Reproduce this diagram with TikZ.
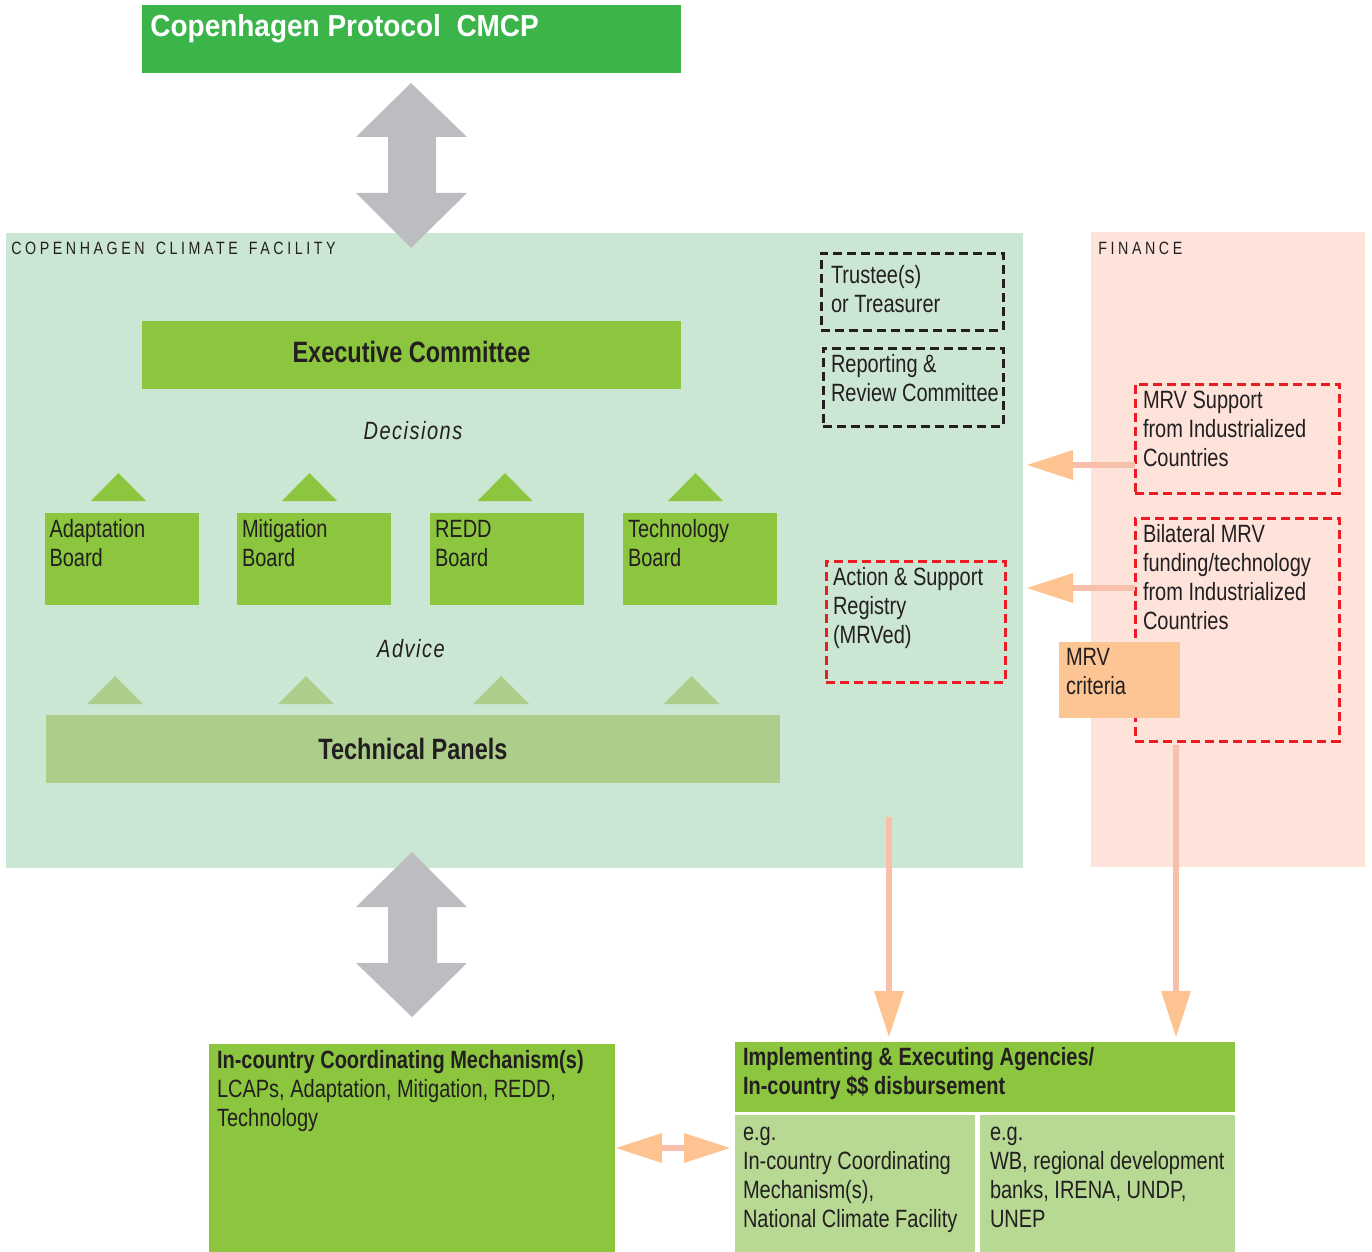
\documentclass[tikz,border=0pt]{standalone}
\usepackage{fontspec}
\setmainfont{Liberation Sans}[FakeStretch=0.8]
\newfontfamily\spacedfont{Liberation Sans}[FakeStretch=0.8,LetterSpace=20]
\newfontfamily\italsp{Liberation Sans}[FakeStretch=0.8,LetterSpace=6]
\newfontfamily\titlefont{Liberation Sans}[FakeStretch=0.92]
\usetikzlibrary{arrows.meta}
\definecolor{ink}{RGB}{35,31,32}
\definecolor{cmcpgreen}{RGB}{59,181,74}
\definecolor{boxgreen}{RGB}{140,198,63}
\definecolor{ccfbg}{RGB}{204,230,212}
\definecolor{panelgreen}{RGB}{173,206,139}
\definecolor{subgreen}{RGB}{184,217,147}
\definecolor{finbg}{RGB}{253,227,218}
\definecolor{arrowgray}{RGB}{188,189,193}
\definecolor{headorange}{RGB}{253,196,146}
\definecolor{shaftpink}{RGB}{248,191,170}
\definecolor{critorange}{RGB}{253,197,148}
\definecolor{mrvred}{RGB}{237,28,36}
\newcommand\fs{\rule{0pt}{10pt}}
\newcommand\wsp{\hspace{1.8pt}}
\tikzset{
  OTip/.tip={Triangle[length=23pt,width=15pt,color=headorange,line width=0pt]},
  box/.style={inner sep=0pt,outer sep=0pt,anchor=north west,draw=none},
  txt/.style={inner sep=0pt,outer sep=0pt,anchor=north west,align=left,text=ink,font=\fontsize{12.5}{14.5}\selectfont},
  dashblack/.style={draw=ink,line width=1.5pt,dash pattern=on 4.5pt off 2.5pt},
  dashred/.style={draw=mrvred,line width=1.5pt,dash pattern=on 4.5pt off 2.5pt},
  shaft/.style={draw=shaftpink,line width=3pt},
  heading/.style={inner sep=0pt,text=ink,font=\fontsize{14.7}{17}\selectfont\bfseries},
  sectlabel/.style={inner sep=0pt,anchor=base west,text=ink,font=\spacedfont\fontsize{8.9}{10}\selectfont},
  flowlabel/.style={inner sep=0pt,anchor=base,text=ink,font=\italsp\itshape\fontsize{12.5}{14.5}\selectfont},
}
\begin{document}
\begin{tikzpicture}[x=0.5pt,y=-0.5pt]
\useasboundingbox (0,0) rectangle (1372,1252);

% background areas
\node[box,fill=ccfbg,minimum width=508.5pt,minimum height=317.5pt] (ccf) at (6,233) {};
\node[box,fill=finbg,minimum width=137pt,minimum height=317.5pt] (fin) at (1091,232) {};
\node[sectlabel] (ccflabel) at (11,255) {COPENHAGEN\wsp{} CLIMATE\wsp{} FACILITY};
\node[sectlabel] (finlabel) at (1098,255) {FINANCE};

% top box
\node[box,fill=cmcpgreen,minimum width=269.5pt,minimum height=34pt] (cmcp) at (142,5) {};
\node[inner sep=0pt,anchor=base west,text=white,font=\titlefont\bfseries\fontsize{15.2}{18}\selectfont] (cmcptext) at (150,37) {Copenhagen Protocol\ \ CMCP};

% gray double arrows
\fill[arrowgray] (411,83) -- (467,137) -- (436,137) -- (436,193) -- (467,193) -- (411,248)
  -- (356,193) -- (388,193) -- (388,137) -- (356,137) -- cycle;
\fill[arrowgray] (412,852) -- (467,907) -- (437,907) -- (437,963) -- (467,963) -- (412,1017)
  -- (356,963) -- (388,963) -- (388,907) -- (356,907) -- cycle;

% executive committee
\node[box,fill=boxgreen,minimum width=269.5pt,minimum height=34pt] (exec) at (142,321) {};
\node[heading] (exectext) at ([yshift=1.5pt]exec.center) {Executive Committee};
\node[flowlabel] (decisions) at (413,439) {Decisions};

% decision triangles
\foreach \cx in {118.5,309.5,505,695.5}
  \fill[boxgreen] (\cx,473) -- (\cx+27.5,501) -- (\cx-27.5,501) -- cycle;

% boards
\node[box,fill=boxgreen,minimum width=77pt,minimum height=46pt] (adapt) at (45,513) {};
\node[box,fill=boxgreen,minimum width=77pt,minimum height=46pt] (mitig) at (237,513) {};
\node[box,fill=boxgreen,minimum width=77pt,minimum height=46pt] (redd) at (430,513) {};
\node[box,fill=boxgreen,minimum width=77pt,minimum height=46pt] (techb) at (623,513) {};
\node[txt] (adapttext) at (49.5,517) {\fs Adaptation\\Board};
\node[txt] (mitigtext) at (242,517) {\fs Mitigation\\Board};
\node[txt] (reddtext) at (435,517) {\fs REDD\\Board};
\node[txt] (techbtext) at (628,517) {\fs Technology\\Board};

\node[flowlabel] (advice) at (411,657) {Advice};

% advice triangles
\foreach \cx in {115,306,501,691.5}
  \fill[panelgreen] (\cx,676) -- (\cx+28,704) -- (\cx-28,704) -- cycle;

% technical panels
\node[box,fill=panelgreen,minimum width=367pt,minimum height=34pt] (panels) at (46,715) {};
\node[heading] (panelstext) at (panels.center) {Technical Panels};

% dashed boxes in CCF
\node[box,dashblack,minimum width=91pt,minimum height=38.5pt] (trustee) at (821,253) {};
\node[txt] (trusteetext) at (831,263) {\fs Trustee(s)\\or Treasurer};
\node[box,dashblack,minimum width=90pt,minimum height=39pt] (review) at (823,348) {};
\node[txt] (reviewtext) at (831,352) {\fs Reporting \&\\Review Committee};
\node[box,dashred,minimum width=89.5pt,minimum height=60.5pt] (registry) at (826,561) {};
\node[txt] (registrytext) at (833,565) {\fs Action \& Support\\Registry\\(MRVed)};

% finance boxes
\node[box,dashred,minimum width=102pt,minimum height=54.5pt] (mrvs) at (1135,384) {};
\node[txt] (mrvstext) at (1143,388) {\fs MRV Support\\from Industrialized\\Countries};
\node[box,dashred,minimum width=102pt,minimum height=111.5pt] (bilat) at (1135,518) {};
\node[txt] (bilattext) at (1143,522) {\fs Bilateral MRV\\funding/technology\\from Industrialized\\Countries};
\node[box,fill=critorange,minimum width=60.5pt,minimum height=38pt] (crit) at (1059,642) {};
\node[txt] (crittext) at (1066,645) {\fs MRV\\criteria};

% bottom boxes
\node[box,fill=boxgreen,minimum width=203pt,minimum height=104pt] (incountry) at (209,1044) {};
\node[txt] (incountrytext) at (217,1048) {\fs\bfseries In-country Coordinating Mechanism(s)\\LCAPs, Adaptation, Mitigation, REDD,\\Technology};
\node[box,fill=boxgreen,minimum width=250pt,minimum height=35pt] (impl) at (735,1042) {};
\node[txt,font=\fontsize{12.5}{14.5}\selectfont\bfseries] (impltext) at (743,1045) {\fs Implementing \& Executing Agencies/\\In-country \$\$ disbursement};
\node[box,fill=subgreen,minimum width=120pt,minimum height=68.5pt] (subA) at (735,1115) {};
\node[box,fill=subgreen,minimum width=127.5pt,minimum height=68.5pt] (subB) at (980,1115) {};
\node[txt] (subAtext) at (743,1120) {\fs e.g.\\In-country Coordinating\\Mechanism(s),\\National Climate Facility};
\node[txt] (subBtext) at (990,1120) {\fs e.g.\\WB, regional development\\banks, IRENA, UNDP,\\UNEP};

% orange connectors
\coordinate (yS) at (0,465);
\coordinate (yB) at (0,588);
\coordinate (regdown) at (889,817);
\coordinate (bilatdown) at (1176,745);
\draw[shaft,-OTip,shorten >=2pt] (mrvs.west |- yS) -- (ccf.east |- yS);
\draw[shaft,-OTip,shorten >=2pt] (bilat.west |- yB) -- (ccf.east |- yB);
\draw[shaft,-OTip,shorten >=2.5pt] (regdown) -- (regdown |- impl.north);
\draw[shaft,-OTip,shorten >=2.5pt] (bilatdown) -- (bilatdown |- impl.north);
\draw[shaft,OTip-OTip,shorten <=0.5pt,shorten >=2.5pt] (incountry.east) -- (subA.west |- incountry.east);
\end{tikzpicture}
\end{document}
